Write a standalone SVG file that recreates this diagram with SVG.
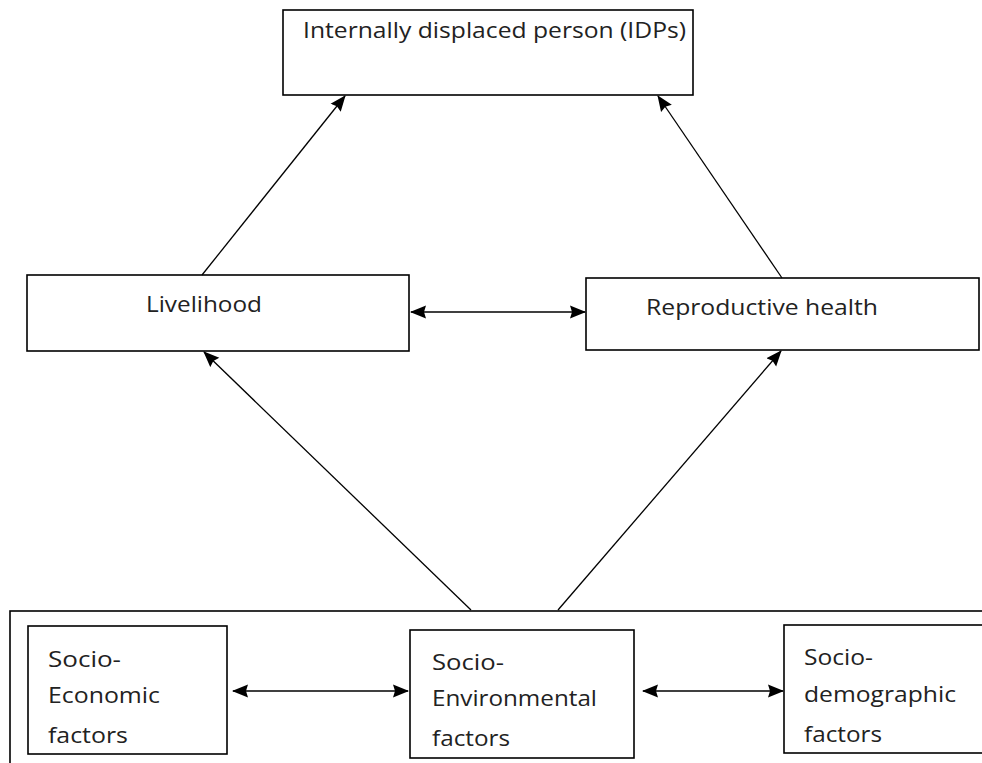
<svg xmlns="http://www.w3.org/2000/svg" width="982" height="763" viewBox="0 0 982 763">
<style>
.box{fill:#fff;stroke:#000;stroke-width:1.6}
.lbl{font-family:"Open Sans","Liberation Sans",Arial,sans-serif;font-size:21px;fill:#222}
.con{stroke:#000;stroke-width:1.3;fill:none}
</style>
<defs>
<marker id="ah" markerUnits="userSpaceOnUse" markerWidth="16" markerHeight="14" refX="15" refY="7" orient="auto-start-reverse">
<path d="M0,0.5 L16,7 L0,13.5 L2,7 Z" fill="#000"/>
</marker>
</defs>
<rect width="982" height="763" fill="#fff"/>
<g id="outer">
<rect class="box" x="10" y="611" width="1000" height="200"/>
</g>
<g id="idps">
<rect class="box" x="283" y="10" width="410" height="85"/>
<text class="lbl" x="303" y="38" textLength="383" lengthAdjust="spacingAndGlyphs">Internally displaced person (IDPs)</text>
</g>
<g id="livelihood">
<rect class="box" x="27" y="275" width="382" height="76"/>
<text class="lbl" x="146" y="312" textLength="116" lengthAdjust="spacingAndGlyphs">Livelihood</text>
</g>
<g id="reproductive">
<rect class="box" x="586" y="278" width="393" height="72"/>
<text class="lbl" x="646" y="315" textLength="232" lengthAdjust="spacingAndGlyphs">Reproductive health</text>
</g>
<g id="socio-economic">
<rect class="box" x="28" y="626" width="199" height="128"/>
<text class="lbl" x="48" y="667" textLength="73" lengthAdjust="spacingAndGlyphs">Socio-</text>
<text class="lbl" x="48" y="703" textLength="112" lengthAdjust="spacingAndGlyphs">Economic</text>
<text class="lbl" x="48" y="743" textLength="80" lengthAdjust="spacingAndGlyphs">factors</text>
</g>
<g id="socio-environmental">
<rect class="box" x="410" y="630" width="224" height="128"/>
<text class="lbl" x="432" y="670" textLength="72" lengthAdjust="spacingAndGlyphs">Socio-</text>
<text class="lbl" x="432" y="706" textLength="165" lengthAdjust="spacingAndGlyphs">Environmental</text>
<text class="lbl" x="432" y="746" textLength="78" lengthAdjust="spacingAndGlyphs">factors</text>
</g>
<g id="socio-demographic">
<rect class="box" x="784" y="625" width="300" height="128"/>
<text class="lbl" x="804" y="665" textLength="69" lengthAdjust="spacingAndGlyphs">Socio-</text>
<text class="lbl" x="804" y="702" textLength="152" lengthAdjust="spacingAndGlyphs">demographic</text>
<text class="lbl" x="804" y="742" textLength="78" lengthAdjust="spacingAndGlyphs">factors</text>
</g>
<g id="connectors">
<line class="con" x1="202" y1="275" x2="345" y2="96" marker-end="url(#ah)"/>
<line class="con" x1="782" y1="278" x2="658" y2="96" marker-end="url(#ah)"/>
<line class="con" x1="471" y1="610" x2="204" y2="352" marker-end="url(#ah)"/>
<line class="con" x1="558" y1="610" x2="781" y2="351" marker-end="url(#ah)"/>
<line class="con" x1="411" y1="312" x2="585" y2="312" marker-start="url(#ah)" marker-end="url(#ah)"/>
<line class="con" x1="233" y1="691" x2="408" y2="691" marker-start="url(#ah)" marker-end="url(#ah)"/>
<line class="con" x1="643" y1="691" x2="783" y2="691" marker-start="url(#ah)" marker-end="url(#ah)"/>
</g>
</svg>
